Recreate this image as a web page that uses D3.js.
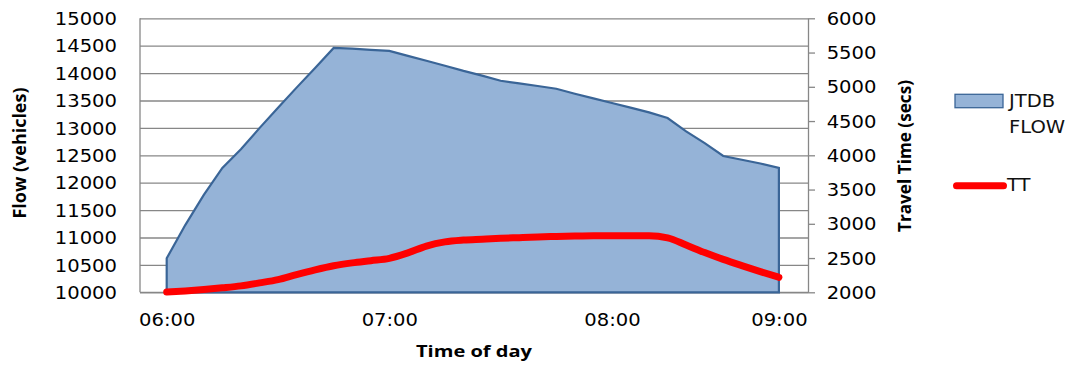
<!DOCTYPE html>
<html>
<head>
<meta charset="utf-8">
<script src="https://cdn.jsdelivr.net/npm/d3@7"></script>
<style>
  html, body { margin: 0; padding: 0; background: #fff; }
  svg { display: block; }
</style>
</head>
<body>
<svg id="chart" width="1079" height="365"></svg>
<script>
// Sample times (category axis)
const times = ["06:00","06:05","06:10","06:15","06:20","06:25","06:30","06:35","06:40","06:45",
               "06:50","06:55","07:00","07:05","07:10","07:15","07:20","07:25","07:30","07:35",
               "07:40","07:45","07:50","07:55","08:00","08:05","08:10","08:15","08:20","08:25",
               "08:30","08:35","08:40","09:00"];

// JTDB FLOW (vehicles) - left axis
const flow = [10620, 11227, 11777, 12270, 12611, 12996, 13366, 13735, 14091, 14460,
              14445, 14424, 14404, 14315, 14225, 14135, 14040, 13955, 13860, 13812,
              13764, 13715, 13624, 13539, 13454, 13370, 13283, 13180, 12937, 12723,
              12487, 12419, 12350, 12270];

// TT travel time (secs) - right axis
const travelTime = [2005, 2020, 2040, 2065, 2094, 2137, 2185, 2259, 2328, 2388,
                    2430, 2462, 2495, 2575, 2675, 2736, 2762, 2775, 2788, 2798,
                    2808, 2815, 2822, 2826, 2826, 2826, 2826, 2795, 2690, 2580,
                    2480, 2389, 2302, 2219];

const timeTicks = ["06:00", "07:00", "08:00", "09:00"];
const flowTicks = [10000, 10500, 11000, 11500, 12000, 12500, 13000, 13500, 14000, 14500, 15000];
const ttTicks = [2000, 2500, 3000, 3500, 4000, 4500, 5000, 5500, 6000];

const plot = { left: 140, right: 808, top: 18.3, bottom: 292.3 };
const GRID = "#878787";
const FILL = "#95B3D7";
const EDGE = "#3A6597";
const RED = "#FF0000";
const SX = 1.15;               // horizontal widening of the label glyphs
const tickFont = "'DejaVu Sans', Verdana, sans-serif";
const titleFont = "'Open Sans', 'Liberation Sans', sans-serif";

const svg = d3.select("#chart");

const x = d3.scalePoint().domain(times).range([166.7, 778.9]);
const yL = d3.scaleLinear().domain([10000, 15000]).range([plot.bottom, plot.top]);
const yR = d3.scaleLinear().domain([2000, 6000]).range([plot.bottom, plot.top]);

// widen text glyphs about their anchor
function widen(sel) {
  sel.each(function () {
    const t = d3.select(this);
    const len = this.getComputedTextLength();
    t.attr("textLength", len * SX).attr("lengthAdjust", "spacingAndGlyphs");
  });
}

// Horizontal gridlines
const grid = svg.append("g")
  .attr("transform", `translate(${plot.left},0)`)
  .call(d3.axisLeft(yL).tickValues(flowTicks).tickSize(-(plot.right - plot.left)).tickFormat(""));
grid.select(".domain").remove();
grid.selectAll(".tick line").attr("stroke", GRID).attr("stroke-width", 1.3);

// Plot frame: left edge and baseline
svg.append("line")
  .attr("x1", plot.left).attr("x2", plot.left)
  .attr("y1", plot.top).attr("y2", plot.bottom)
  .attr("stroke", GRID).attr("stroke-width", 1.3);
svg.append("line")
  .attr("x1", plot.left).attr("x2", plot.right)
  .attr("y1", plot.bottom).attr("y2", plot.bottom)
  .attr("stroke", GRID).attr("stroke-width", 1.3);

// Flow area
const area = d3.area()
  .x((d, i) => x(times[i]))
  .y0(yL(10000))
  .y1(d => yL(d));
svg.append("path")
  .datum(flow)
  .attr("d", area)
  .attr("fill", FILL)
  .attr("stroke", EDGE)
  .attr("stroke-width", 2.2)
  .attr("stroke-linejoin", "miter");

// Travel time line
const line = d3.line()
  .x((d, i) => x(times[i]))
  .y(d => yR(d))
  .curve(d3.curveMonotoneX);
svg.append("path")
  .datum(travelTime)
  .attr("d", line)
  .attr("fill", "none")
  .attr("stroke", RED)
  .attr("stroke-width", 7)
  .attr("stroke-linecap", "round")
  .attr("stroke-linejoin", "round");

// Left axis labels
const leftAxis = svg.append("g")
  .attr("transform", `translate(${plot.left},0)`)
  .call(d3.axisLeft(yL).tickValues(flowTicks).tickSize(0).tickSizeOuter(0).tickPadding(23).tickFormat(d3.format("d")));
leftAxis.select(".domain").remove();
leftAxis.selectAll("text")
  .attr("font-family", tickFont).attr("font-size", 17).attr("fill", "#000").attr("dy", "0.36em")
  .call(widen);

// Right axis
const rightAxis = svg.append("g")
  .attr("transform", `translate(${plot.right},0)`)
  .call(d3.axisRight(yR).tickValues(ttTicks).tickSize(7).tickSizeOuter(0).tickPadding(11.7).tickFormat(d3.format("d")));
rightAxis.select(".domain").attr("stroke", GRID).attr("stroke-width", 1.3);
rightAxis.selectAll(".tick line").attr("stroke", GRID).attr("stroke-width", 1.3);
rightAxis.selectAll("text")
  .attr("font-family", tickFont).attr("font-size", 17).attr("fill", "#000").attr("dy", "0.36em")
  .call(widen);

// Bottom axis labels
const bottomAxis = svg.append("g")
  .attr("transform", `translate(0,${plot.bottom})`)
  .call(d3.axisBottom(x).tickValues(timeTicks).tickSize(0).tickSizeOuter(0));
bottomAxis.select(".domain").remove();
bottomAxis.selectAll("text")
  .attr("font-family", tickFont).attr("font-size", 17).attr("fill", "#000")
  .attr("y", 33.5).attr("dy", 0)
  .call(widen);

// Axis titles
svg.append("text")
  .attr("transform", "translate(26,153) rotate(-90)")
  .attr("text-anchor", "middle")
  .attr("font-family", titleFont).attr("font-weight", "bold").attr("font-size", 17.5)
  .attr("textLength", 131).attr("lengthAdjust", "spacingAndGlyphs")
  .text("Flow (vehicles)");

svg.append("text")
  .attr("transform", "translate(910.5,156) rotate(-90)")
  .attr("text-anchor", "middle")
  .attr("font-family", titleFont).attr("font-weight", "bold").attr("font-size", 17.5)
  .attr("textLength", 152).attr("lengthAdjust", "spacingAndGlyphs")
  .text("Travel Time (secs)");

svg.append("text")
  .attr("x", (plot.left + plot.right) / 2).attr("y", 357)
  .attr("text-anchor", "middle")
  .attr("font-family", titleFont).attr("font-weight", "bold").attr("font-size", 16.5)
  .attr("textLength", 116).attr("lengthAdjust", "spacingAndGlyphs")
  .text("Time of day");

// Legend
const legend = svg.append("g");
legend.append("rect")
  .attr("x", 955).attr("y", 94.3).attr("width", 48).attr("height", 13.4)
  .attr("fill", FILL).attr("stroke", EDGE).attr("stroke-width", 1.3);
legend.append("text")
  .attr("x", 1009).attr("y", 107.3)
  .attr("font-family", tickFont).attr("font-size", 17).attr("fill", "#111")
  .text("JTDB").call(widen);
legend.append("text")
  .attr("x", 1009).attr("y", 132.7)
  .attr("font-family", tickFont).attr("font-size", 17).attr("fill", "#111")
  .text("FLOW").call(widen);
legend.append("line")
  .attr("x1", 956.5).attr("x2", 1003.5).attr("y1", 185.7).attr("y2", 185.7)
  .attr("stroke", RED).attr("stroke-width", 7).attr("stroke-linecap", "round");
legend.append("text")
  .attr("x", 1007).attr("y", 191.2)
  .attr("font-family", tickFont).attr("font-size", 17).attr("fill", "#111")
  .text("TT").call(widen);
</script>
</body>
</html>
